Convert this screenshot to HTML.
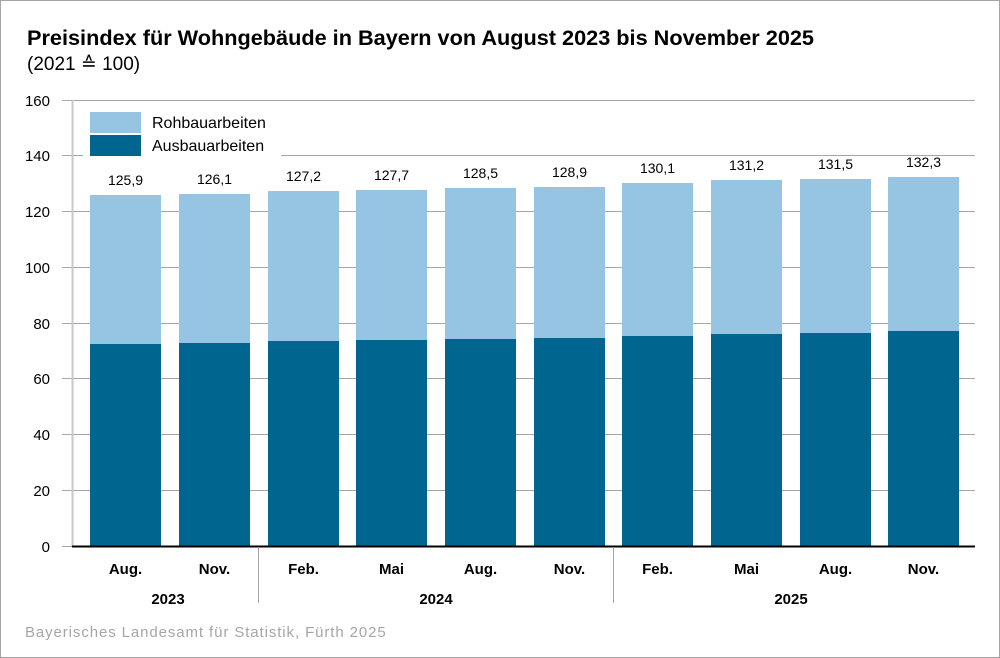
<!DOCTYPE html>
<html><head><meta charset="utf-8"><style>
body{margin:0;background:#fff}
svg{display:block;font-family:"Liberation Sans",sans-serif}
</style></head><body>
<svg width="1000" height="658" viewBox="0 0 1000 658" xmlns="http://www.w3.org/2000/svg">
<rect x="0.5" y="0.5" width="999" height="657" fill="#fff" stroke="#a6a6a6"/>
<text x="27" y="45" font-size="21.7" font-weight="bold" fill="#000">Preisindex für Wohngebäude in Bayern von August 2023 bis November 2025</text>
<text x="27" y="70" font-size="19" fill="#000">(2021 ≙ 100)</text>
<g stroke="#a6a6a6" stroke-width="1">
<line x1="62" y1="100.5" x2="975" y2="100.5"/>
<line x1="62" y1="155.5" x2="975" y2="155.5"/>
<line x1="62" y1="211.5" x2="975" y2="211.5"/>
<line x1="62" y1="267.5" x2="975" y2="267.5"/>
<line x1="62" y1="323.5" x2="975" y2="323.5"/>
<line x1="62" y1="378.5" x2="975" y2="378.5"/>
<line x1="62" y1="434.5" x2="975" y2="434.5"/>
<line x1="62" y1="490.5" x2="975" y2="490.5"/>
<line x1="62" y1="546.5" x2="72" y2="546.5"/>
</g>
<line x1="72.5" y1="100" x2="72.5" y2="546" stroke="#c8c8c8" stroke-width="2"/>
<g font-size="15" fill="#000" text-anchor="end">
<text x="50" y="106">160</text><text x="50" y="161">140</text><text x="50" y="217">120</text>
<text x="50" y="273">100</text><text x="50" y="329">80</text><text x="50" y="384">60</text>
<text x="50" y="440">40</text><text x="50" y="496">20</text><text x="50" y="552">0</text>
</g>
<rect x="83" y="108" width="198" height="52" fill="#fff"/>
<rect x="90" y="112" width="51" height="21" fill="#95c5e3"/>
<rect x="90" y="135" width="51" height="21" fill="#006690"/>
<text x="152" y="128" font-size="16">Rohbauarbeiten</text>
<text x="152" y="151" font-size="16">Ausbauarbeiten</text>
<g id="bars">
<rect x="90" y="195" width="71" height="351" fill="#95c5e3"/><rect x="90" y="344" width="71" height="202" fill="#006690"/>
<rect x="179" y="194" width="71" height="352" fill="#95c5e3"/><rect x="179" y="343" width="71" height="203" fill="#006690"/>
<rect x="268" y="191" width="71" height="355" fill="#95c5e3"/><rect x="268" y="341" width="71" height="205" fill="#006690"/>
<rect x="356" y="190" width="71" height="356" fill="#95c5e3"/><rect x="356" y="340" width="71" height="206" fill="#006690"/>
<rect x="445" y="188" width="71" height="358" fill="#95c5e3"/><rect x="445" y="339" width="71" height="207" fill="#006690"/>
<rect x="534" y="187" width="71" height="359" fill="#95c5e3"/><rect x="534" y="338" width="71" height="208" fill="#006690"/>
<rect x="622" y="183" width="71" height="363" fill="#95c5e3"/><rect x="622" y="336" width="71" height="210" fill="#006690"/>
<rect x="711" y="180" width="71" height="366" fill="#95c5e3"/><rect x="711" y="334" width="71" height="212" fill="#006690"/>
<rect x="800" y="179" width="71" height="367" fill="#95c5e3"/><rect x="800" y="333" width="71" height="213" fill="#006690"/>
<rect x="888" y="177" width="71" height="369" fill="#95c5e3"/><rect x="888" y="331" width="71" height="215" fill="#006690"/>
</g>
<g font-size="14" text-anchor="middle">
<text x="125.5" y="185">125,9</text><text x="214.5" y="184">126,1</text><text x="303.5" y="181">127,2</text>
<text x="391.5" y="180">127,7</text><text x="480.5" y="178">128,5</text><text x="569.5" y="177">128,9</text>
<text x="657.5" y="173">130,1</text><text x="746.5" y="170">131,2</text><text x="835.5" y="169">131,5</text>
<text x="923.5" y="167">132,3</text>
</g>
<line x1="72" y1="546.5" x2="975" y2="546.5" stroke="#000" stroke-width="2"/>
<line x1="258.5" y1="547" x2="258.5" y2="603" stroke="#a6a6a6"/>
<line x1="613.5" y1="547" x2="613.5" y2="603" stroke="#a6a6a6"/>
<g font-size="15" font-weight="bold" text-anchor="middle">
<text x="125.5" y="574">Aug.</text><text x="214.5" y="574">Nov.</text><text x="303.5" y="574">Feb.</text>
<text x="391.5" y="574">Mai</text><text x="480.5" y="574">Aug.</text><text x="569.5" y="574">Nov.</text>
<text x="657.5" y="574">Feb.</text><text x="746.5" y="574">Mai</text><text x="835.5" y="574">Aug.</text>
<text x="923.5" y="574">Nov.</text>
<text x="168" y="604">2023</text><text x="436" y="604">2024</text><text x="791" y="604">2025</text>
</g>
<text x="25" y="637" font-size="15" letter-spacing="0.9" fill="#a6a6a6">Bayerisches Landesamt für Statistik, Fürth 2025</text>
</svg>
</body></html>
